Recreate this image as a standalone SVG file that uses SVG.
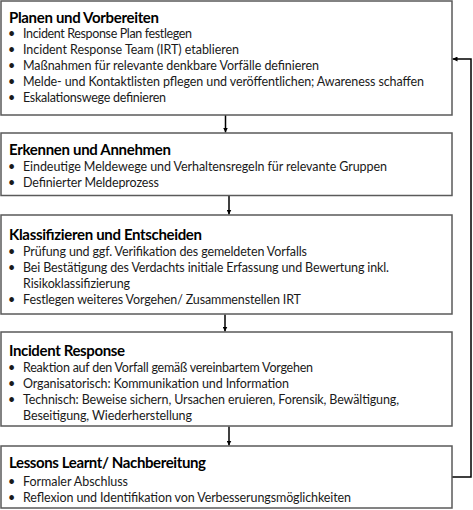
<svg xmlns="http://www.w3.org/2000/svg" width="473" height="510" viewBox="0 0 473 510">
<defs>
<marker id="ah" viewBox="0 0 10 10" refX="10" refY="5" markerWidth="5" markerHeight="5" orient="auto" markerUnits="userSpaceOnUse">
<path d="M0,0 L10,5 L0,10 Z" fill="#000"/>
</marker>
<style>
.box{fill:#fff;stroke:#5a5a5a;stroke-width:1.5}
.t{font-family:Lato,"Liberation Sans",sans-serif;font-size:15px;font-weight:bold;fill:#000}
.b{font-family:Lato,"Liberation Sans",sans-serif;font-size:12.5px;fill:#1a1a1a}
.c{stroke:#000;stroke-width:1.5;fill:none}
</style>
</defs>
<rect width="473" height="510" fill="#fff"/>
<g id="connectors">
<line class="c" x1="225.5" y1="115" x2="225.5" y2="132.5" marker-end="url(#ah)"/>
<line class="c" x1="229" y1="196" x2="229" y2="214.5" marker-end="url(#ah)"/>
<line class="c" x1="225" y1="314.5" x2="225" y2="331.5" marker-end="url(#ah)"/>
<line class="c" x1="229" y1="426.5" x2="229" y2="445.5" marker-end="url(#ah)"/>
<polyline class="c" points="452,477 471,477 471,59 452.5,59" marker-end="url(#ah)"/>
</g>
<g id="n1">
<rect class="box" x="1" y="1" width="451" height="114"/>
<text class="t" x="9" y="23" textLength="150">Planen und Vorbereiten</text>
<text class="b" x="8" y="38">•</text><text class="b" x="23" y="38" textLength="169">Incident Response Plan festlegen</text>
<text class="b" x="8" y="54">•</text><text class="b" x="23" y="54" textLength="216">Incident Response Team (IRT) etablieren</text>
<text class="b" x="8" y="70">•</text><text class="b" x="23" y="70" textLength="296">Maßnahmen für relevante denkbare Vorfälle definieren</text>
<text class="b" x="8" y="86">•</text><text class="b" x="23" y="86" textLength="401">Melde- und Kontaktlisten pflegen und veröffentlichen; Awareness schaffen</text>
<text class="b" x="8" y="102">•</text><text class="b" x="23" y="102" textLength="143">Eskalationswege definieren</text>
</g>
<g id="n2">
<rect class="box" x="1" y="133" width="451" height="62.5"/>
<text class="t" x="9" y="155" textLength="162">Erkennen und Annehmen</text>
<text class="b" x="8" y="171">•</text><text class="b" x="23" y="171" textLength="364">Eindeutige Meldewege und Verhaltensregeln für relevante Gruppen</text>
<text class="b" x="8" y="187">•</text><text class="b" x="23" y="187" textLength="136">Definierter Meldeprozess</text>
</g>
<g id="n3">
<rect class="box" x="1" y="215" width="451" height="99"/>
<text class="t" x="9" y="240" textLength="193">Klassifizieren und Entscheiden</text>
<text class="b" x="8" y="256">•</text><text class="b" x="23" y="256" textLength="284">Prüfung und ggf. Verifikation des gemeldeten Vorfalls</text>
<text class="b" x="8" y="272">•</text><text class="b" x="23" y="272" textLength="366">Bei Bestätigung des Verdachts initiale Erfassung und Bewertung inkl.</text>
<text class="b" x="23" y="288" textLength="107">Risikoklassifizierung</text>
<text class="b" x="8" y="304">•</text><text class="b" x="23" y="304" textLength="278">Festlegen weiteres Vorgehen/ Zusammenstellen IRT</text>
</g>
<g id="n4">
<rect class="box" x="1" y="332" width="451" height="94"/>
<text class="t" x="9" y="356" textLength="116">Incident Response</text>
<text class="b" x="8" y="372">•</text><text class="b" x="23" y="372" textLength="290">Reaktion auf den Vorfall gemäß vereinbartem Vorgehen</text>
<text class="b" x="8" y="388">•</text><text class="b" x="23" y="388" textLength="266">Organisatorisch: Kommunikation und Information</text>
<text class="b" x="8" y="404">•</text><text class="b" x="23" y="404" textLength="376">Technisch: Beweise sichern, Ursachen eruieren, Forensik, Bewältigung,</text>
<text class="b" x="23" y="420" textLength="169">Beseitigung, Wiederherstellung</text>
</g>
<g id="n5">
<rect class="box" x="1" y="446" width="451" height="62"/>
<text class="t" x="9" y="468" textLength="197">Lessons Learnt/ Nachbereitung</text>
<text class="b" x="8" y="486">•</text><text class="b" x="23" y="486" textLength="105">Formaler Abschluss</text>
<text class="b" x="8" y="502">•</text><text class="b" x="23" y="502" textLength="328">Reflexion und Identifikation von Verbesserungsmöglichkeiten</text>
</g>
</svg>
